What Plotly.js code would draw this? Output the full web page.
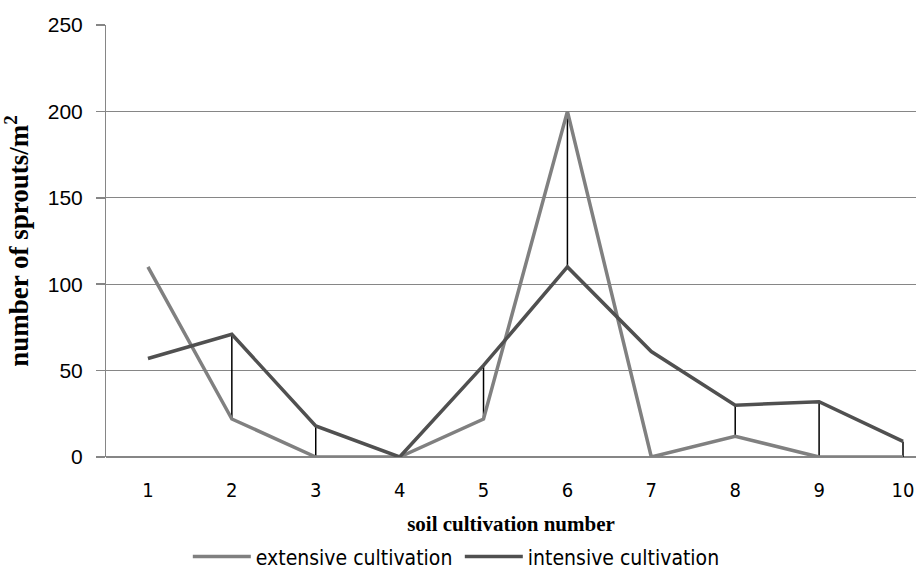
<!DOCTYPE html>
<html>
<head>
<meta charset="utf-8">
<script src="https://cdn.plot.ly/plotly-3.0.1.min.js"></script>
<style>html,body{margin:0;padding:0;background:#fff;}#chart{width:916px;height:580px;}</style>
</head>
<body>
<div id="chart"></div>
<script>
// Data
const cultivationNumbers = [1, 2, 3, 4, 5, 6, 7, 8, 9, 10];
const extensive = [110, 22, 0, 0, 22, 200, 0, 12, 0, 0];
const intensive = [57, 71, 18, 0, 53, 110, 61, 30, 32, 9];
const connectorCategories = [2, 3, 5, 6, 8, 9, 10];
const yTickValues = [0, 50, 100, 150, 200, 250];

// high-low connector segments built from the series values
const connX = [], connY = [];
connectorCategories.forEach(c => {
  const i = cultivationNumbers.indexOf(c);
  connX.push(c, c, null);
  connY.push(extensive[i], intensive[i], null);
});

const traces = [
  {x: connX, y: connY, mode: 'lines', line: {color: '#000000', width: 1.5},
   showlegend: false, hoverinfo: 'skip'},
  {x: cultivationNumbers, y: extensive, mode: 'lines', name: 'extensive cultivation',
   line: {color: '#808080', width: 3.5}},
  {x: cultivationNumbers, y: intensive, mode: 'lines', name: 'intensive cultivation',
   line: {color: '#505050', width: 3.5}}
];

const layout = {
  width: 916, height: 580,
  margin: {l: 106, r: 0, t: 25, b: 123, autoexpand: false},
  paper_bgcolor: '#ffffff', plot_bgcolor: '#ffffff',
  showlegend: true,
  legend: {orientation: 'h', x: 0.101, xanchor: 'left', yref: 'container', y: 0.04, yanchor: 'middle',
    font: {family: 'DejaVu Sans Condensed, DejaVu Sans, sans-serif', size: 21, color: '#000'},
    itemwidth: 58, entrywidth: 199, entrywidthmode: 'pixels', tracegroupgap: 0},
  xaxis: {
    range: [0.5, 10.155], tickvals: cultivationNumbers, ticktext: cultivationNumbers.map(String),
    showgrid: false, zeroline: false, showline: false, ticks: '', automargin: false,
    ticklabelstandoff: 19,
    tickfont: {family: 'DejaVu Sans Condensed, DejaVu Sans, sans-serif', size: 20, color: '#000'},
    title: {text: 'soil cultivation number', standoff: 28,
      font: {family: 'Liberation Serif, DejaVu Serif, serif', size: 21, color: '#000', weight: 'bold'}}
  },
  yaxis: {
    range: [0, 250], tickvals: yTickValues, showgrid: true, gridcolor: '#868686', gridwidth: 1,
    zeroline: true, zerolinecolor: '#868686', zerolinewidth: 2.5, automargin: false,
    showline: true, linecolor: '#868686', linewidth: 1,
    ticks: 'outside', ticklen: 9, tickcolor: '#868686', tickwidth: 1.5,
    ticklabelstandoff: 9,
    tickfont: {family: 'Liberation Sans, Arial, sans-serif', size: 21, color: '#000'},
    title: {text: 'number of sprouts/m<sup>2</sup>', standoff: 12,
      font: {family: 'Liberation Serif, DejaVu Serif, serif', size: 27, color: '#000', weight: 'bold'}}
  }
};

Plotly.newPlot('chart', traces, layout, {displayModeBar: false, staticPlot: true});
</script>
</body>
</html>
